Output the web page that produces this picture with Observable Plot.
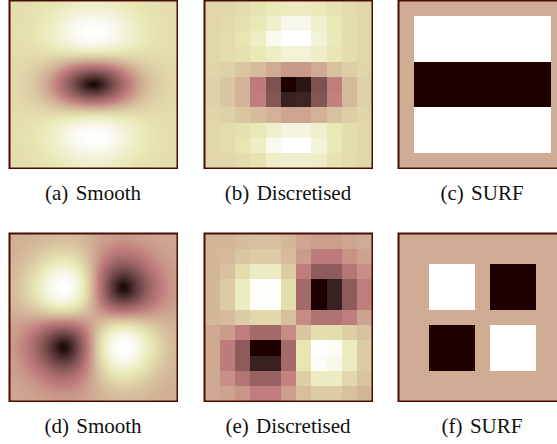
<!DOCTYPE html>
<html><head><meta charset="utf-8">
<script src="https://cdn.jsdelivr.net/npm/d3@7"></script>
<script src="https://cdn.jsdelivr.net/npm/@observablehq/plot@0.6"></script>
<style>
html,body{margin:0;padding:0;background:#fff;}
#fig{position:relative;width:557px;height:444px;overflow:hidden;}
.panel{position:absolute;width:170px;height:170px;}
.panel svg{display:block;max-width:none !important;}
.cap{position:absolute;width:200px;text-align:center;font-family:"Liberation Serif","Times New Roman",serif;font-size:21px;color:#111;white-space:nowrap;line-height:1;}
.cap span{margin-right:0.35em;}
</style></head><body><div id="fig"></div>
<script>
// ---------- data ----------
const captionLetters = ["(a)", "(b)", "(c)", "(d)", "(e)", "(f)"];
const captionNames = ["Smooth", "Discretised", "SURF", "Smooth", "Discretised", "SURF"];

// smooth Dyy: separable profiles, 21 samples across the panel (centre = index 10)
const dyyVertical = [0.1748,0.2670,0.3647,0.4350,0.4337,0.3197,0.0780,-0.2614,-0.6207,-0.8965,-1,-0.8965,-0.6207,-0.2614,0.0780,0.3197,0.4337,0.4350,0.3647,0.2670,0.1748];
const dyyHorizontal = [0.0286,0.0561,0.1027,0.1751,0.2780,0.4111,0.5661,0.7261,0.8674,0.9651,1,0.9651,0.8674,0.7261,0.5661,0.4111,0.2780,0.1751,0.1027,0.0561,0.0286];
const dyyRange = [-1, 0.4463];
// smooth Dxy: same odd profile along x and y
const dxyProfile = [-0.0763,-0.1346,-0.2191,-0.3269,-0.4448,-0.5481,-0.6038,-0.5809,-0.4626,-0.2574,0,0.2574,0.4626,0.5809,0.6038,0.5481,0.4448,0.3269,0.2191,0.1346,0.0763];
const dxyRange = [-0.3679, 0.3679];

// discretised filters (11 x 11, normalised 0..1 colour position), rows top to bottom
const dyyDiscrete = [
  [0.67,0.67,0.69,0.72,0.76,0.78,0.78,0.76,0.72,0.69,0.67],
  [0.67,0.68,0.71,0.75,0.82,0.92,0.92,0.82,0.75,0.70,0.67],
  [0.67,0.69,0.73,0.80,0.93,1.00,1.00,0.85,0.76,0.70,0.67],
  [0.67,0.69,0.71,0.75,0.80,0.85,0.85,0.80,0.74,0.70,0.67],
  [0.66,0.64,0.60,0.56,0.50,0.44,0.44,0.50,0.58,0.63,0.66],
  [0.64,0.60,0.53,0.35,0.15,0.00,0.01,0.15,0.36,0.55,0.64],
  [0.64,0.60,0.53,0.36,0.165,0.025,0.03,0.165,0.37,0.55,0.64],
  [0.66,0.64,0.60,0.56,0.52,0.48,0.48,0.52,0.58,0.63,0.66],
  [0.67,0.69,0.71,0.75,0.82,0.88,0.88,0.82,0.75,0.70,0.67],
  [0.67,0.69,0.73,0.80,0.93,1.00,1.00,0.86,0.76,0.70,0.67],
  [0.67,0.67,0.69,0.72,0.80,0.82,0.82,0.80,0.72,0.69,0.67]
];
const dxyDiscrete = [
  [0.54,0.54,0.56,0.57,0.57,0.54,0.48,0.46,0.46,0.48,0.50],
  [0.54,0.55,0.60,0.62,0.62,0.56,0.45,0.35,0.35,0.42,0.47],
  [0.54,0.58,0.69,0.79,0.79,0.62,0.36,0.19,0.19,0.32,0.41],
  [0.54,0.62,0.79,0.98,0.98,0.70,0.26,0.00,0.025,0.19,0.36],
  [0.54,0.62,0.79,0.98,0.98,0.70,0.26,0.00,0.025,0.19,0.36],
  [0.54,0.56,0.62,0.67,0.67,0.57,0.40,0.30,0.30,0.36,0.47],
  [0.49,0.45,0.36,0.26,0.26,0.40,0.60,0.70,0.70,0.63,0.58],
  [0.49,0.35,0.19,0.00,0.00,0.26,0.73,1.00,0.97,0.79,0.62],
  [0.49,0.35,0.19,0.025,0.025,0.26,0.73,0.96,0.92,0.79,0.62],
  [0.49,0.41,0.31,0.22,0.22,0.38,0.63,0.79,0.79,0.67,0.59],
  [0.49,0.47,0.43,0.36,0.36,0.46,0.57,0.62,0.62,0.58,0.54]
];

// SURF box filters (11 x 11), +1 white, -1 black, 0 background
const surfDyy = [
  [0,0,0,0,0,0,0,0,0,0,0],
  [0,1,1,1,1,1,1,1,1,1,0],
  [0,1,1,1,1,1,1,1,1,1,0],
  [0,1,1,1,1,1,1,1,1,1,0],
  [0,-1,-1,-1,-1,-1,-1,-1,-1,-1,0],
  [0,-1,-1,-1,-1,-1,-1,-1,-1,-1,0],
  [0,-1,-1,-1,-1,-1,-1,-1,-1,-1,0],
  [0,1,1,1,1,1,1,1,1,1,0],
  [0,1,1,1,1,1,1,1,1,1,0],
  [0,1,1,1,1,1,1,1,1,1,0],
  [0,0,0,0,0,0,0,0,0,0,0]
];
const surfDxy = [
  [0,0,0,0,0,0,0,0,0,0,0],
  [0,0,0,0,0,0,0,0,0,0,0],
  [0,0,1,1,1,0,-1,-1,-1,0,0],
  [0,0,1,1,1,0,-1,-1,-1,0,0],
  [0,0,1,1,1,0,-1,-1,-1,0,0],
  [0,0,0,0,0,0,0,0,0,0,0],
  [0,0,-1,-1,-1,0,1,1,1,0,0],
  [0,0,-1,-1,-1,0,1,1,1,0,0],
  [0,0,-1,-1,-1,0,1,1,1,0,0],
  [0,0,0,0,0,0,0,0,0,0,0],
  [0,0,0,0,0,0,0,0,0,0,0]
];

// ---------- style ----------
const panelSize = 168;
const panelLeft = [9, 204, 398];
const panelTop = [0, 233];
const captionBaseline = [201, 434];
const frameColor = "#4b0c02";

// matplotlib "pink" colour map
const pink = t => {
  t = Math.max(0, Math.min(1, t));
  const hr = Math.min(1, 0.0416 + (1 - 0.0416) * t / 0.365079);
  const hg = Math.max(0, Math.min(1, (t - 0.365079) / (0.746032 - 0.365079)));
  const hb = Math.max(0, Math.min(1, (t - 0.746032) / (1 - 0.746032)));
  const c = h => Math.round(255 * Math.sqrt((2 * t + h) / 3));
  return `rgb(${c(hr)},${c(hg)},${c(hb)})`;
};

// Catmull-Rom interpolation through the profile samples
const profile = arr => {
  const n = arr.length - 1;
  return p => {
    const s = Math.max(0, Math.min(n, p + n / 2));
    const i = Math.min(n - 1, Math.floor(s));
    const t = s - i;
    const p0 = arr[Math.max(0, i - 1)], p1 = arr[i], p2 = arr[i + 1], p3 = arr[Math.min(n, i + 2)];
    return 0.5 * (2 * p1 + (-p0 + p2) * t + (2 * p0 - 5 * p1 + 4 * p2 - p3) * t * t + (-p0 + 3 * p1 - 3 * p2 + p3) * t * t * t);
  };
};

function smoothPanel(fx, fy, range) {
  const half = dyyVertical.length / 2;
  return Plot.plot({
    width: panelSize + 2, height: panelSize + 2, margin: 1,
    x: {domain: [-half, half], axis: null},
    y: {domain: [-half, half], axis: null, reverse: true},
    color: {type: "linear", domain: range, interpolate: pink, clamp: true},
    marks: [
      Plot.raster({x1: -half, x2: half, y1: -half, y2: half, pixelSize: 1,
        fill: (x, y) => fx(x) * fy(y)}),
      Plot.frame({stroke: frameColor, strokeWidth: 2})
    ]
  });
}

function gridPanel(grid, range) {
  const n = grid.length;
  return Plot.plot({
    width: panelSize + 2, height: panelSize + 2, margin: 1,
    x: {domain: [0, n], axis: null},
    y: {domain: [0, n], axis: null, reverse: true},
    color: {type: "linear", domain: range, interpolate: pink, clamp: true},
    marks: [
      Plot.raster(grid.flat(), {width: n, height: n, x1: 0, y1: 0, x2: n, y2: n,
        fill: d => d, imageRendering: "pixelated"}),
      Plot.frame({stroke: frameColor, strokeWidth: 2})
    ]
  });
}

const dyyV = profile(dyyVertical), dyyH = profile(dyyHorizontal), dxyP = profile(dxyProfile);
const panels = [
  smoothPanel(dyyH, dyyV, dyyRange),
  gridPanel(dyyDiscrete, [0, 1]),
  gridPanel(surfDyy, [-1, 1]),
  smoothPanel(dxyP, dxyP, dxyRange),
  gridPanel(dxyDiscrete, [0, 1]),
  gridPanel(surfDxy, [-1, 1])
];

const fig = document.getElementById("fig");
panels.forEach((svg, i) => {
  const col = i % 3, row = Math.floor(i / 3);
  const div = document.createElement("div");
  div.className = "panel";
  div.style.left = (panelLeft[col] - 1) + "px";
  div.style.top = (panelTop[row] - 1) + "px";
  div.appendChild(svg);
  fig.appendChild(div);

  const cap = document.createElement("div");
  cap.className = "cap";
  cap.style.left = (panelLeft[col] + panelSize / 2 - 100) + "px";
  cap.style.top = (captionBaseline[row] - 17.6) + "px";
  const s = document.createElement("span");
  s.textContent = captionLetters[i];
  cap.appendChild(s);
  cap.appendChild(document.createTextNode(captionNames[i]));
  fig.appendChild(cap);
});
</script></body></html>
